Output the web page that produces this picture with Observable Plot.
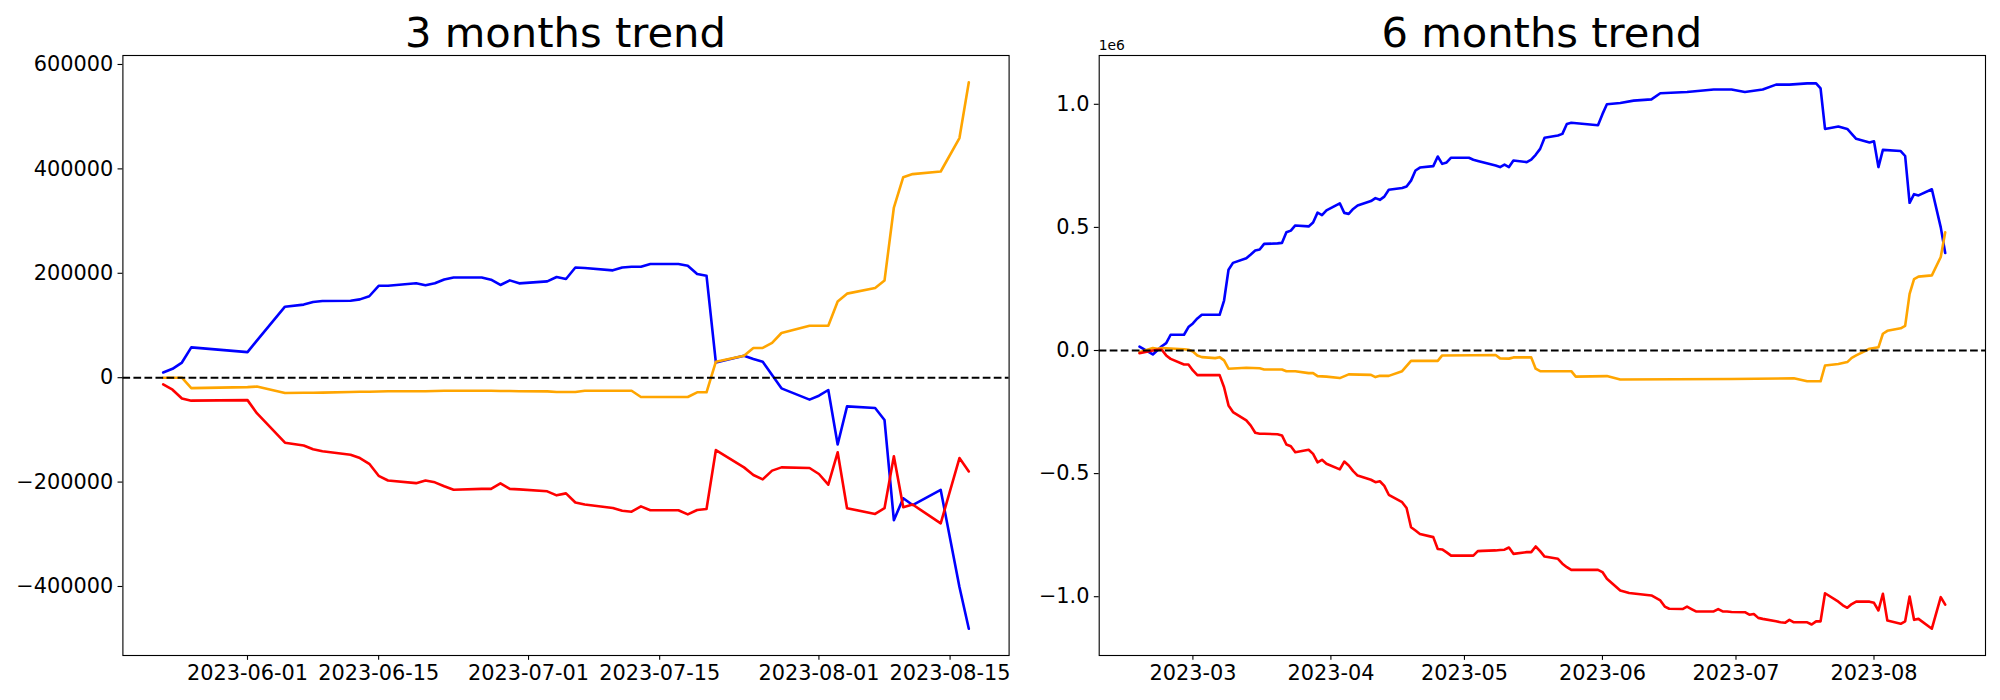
<!DOCTYPE html>
<html>
<head>
<meta charset="utf-8">
<script src="https://cdn.jsdelivr.net/npm/d3@7"></script>
<script src="https://cdn.jsdelivr.net/npm/@observablehq/plot@0.6"></script>
<style>
  html, body { margin: 0; padding: 0; background: #ffffff; }
  #fig { position: relative; width: 2000px; height: 700px; font-family: "DejaVu Sans", sans-serif; color: #000; }
  .title { position: absolute; top: 11.5px; font-size: 41.67px; line-height: 1; white-space: nowrap; transform: translateX(-50%); }
  .offset { position: absolute; top: 38.9px; font-size: 13.9px; line-height: 1; white-space: nowrap; }
  .panel { position: absolute; top: 50px; }
</style>
</head>
<body>
<div id="fig"></div>
<script>
// ---------------- DATA ----------------
// 3 months trend (values in thousands)
const dates3 = ["05-23","05-24","05-25","05-26","06-01","06-02","06-05","06-07","06-08","06-09","06-12","06-13","06-14","06-15","06-16","06-19","06-20","06-21","06-22","06-23","06-26","06-27","06-28","06-29","06-30","07-03","07-04","07-05","07-06","07-07","07-10","07-11","07-12","07-13","07-14","07-17","07-18","07-19","07-20","07-21","07-24","07-25","07-26","07-27","07-28","07-31","08-01","08-02","08-03","08-04","08-07","08-08","08-09","08-10","08-11","08-14","08-16","08-17"];
const blue3k = [10,17,29,58, 49,71,136,140,145,147,147.5,150,156,176,176,181,177,181,188,192,192,187.7,177.6,186.4,180.7, 184.5,192.9,189,211,210,205.6,211,212.6,212.6,217.8,217.8,214.5,198.6,195.4,29,42,36,30.6,5,-20.4,-42, -34.5,-23.6,-128,-55,-58,-81,-273,-231,-244,-215,-401,-481];
const orange3k = [0,0,0,-20, -18,-17,-29.4,-29,-29,-28.7,-27.5,-27,-27,-26.5,-26,-26,-26,-25.5,-25,-25,-25,-25,-25.5,-25.5,-26, -26.2,-27.5,-27.5,-27.5,-25,-25,-25,-25,-37,-37,-37,-37,-28,-28,30.6,42,57,57,66.5,85.6,99.6, 99.6,99.6,146,161,172,186,326,384,390,395,459,566];
const red3k = [-13,-23,-40,-44, -43,-68,-124.5,-130,-137,-141,-147.5,-154,-165,-188,-197,-202,-197,-200.5,-208,-214.6,-213,-213,-202.5,-213,-214, -217.7,-225.4,-221.6,-239,-243,-249.7,-254.8,-256.7,-246.5,-254,-254,-261.8,-253.5,-251.6,-138.6,-171.8,-186.4,-194.8,-178,-171.8,-173, -184.5,-205,-143,-250,-261,-250,-150.7,-248,-243,-279,-154,-179.5];
const xTicks3 = ["06-01","06-15","07-01","07-15","08-01","08-15"];
const yTicks3 = [-400000,-200000,0,200000,400000,600000];
const yDomain3 = [-532200, 617200];

// 6 months trend (values in millions, "1e6")
const blue6 = [["02-17",0.016],["02-20",-0.016],["02-22",0.017],["02-23",0.03],["02-24",0.064],["02-27",0.064],["02-28",0.095],["03-01",0.11],["03-02",0.13],["03-03",0.145],["03-07",0.145],["03-08",0.203],["03-09",0.328],["03-10",0.356],["03-13",0.375],["03-14",0.39],["03-15",0.406],["03-16",0.41],["03-17",0.433],["03-20",0.435],["03-21",0.437],["03-22",0.48],["03-23",0.487],["03-24",0.508],["03-27",0.504],["03-28",0.52],["03-29",0.56],["03-30",0.55],["03-31",0.569],["04-03",0.598],["04-04",0.559],["04-05",0.555],["04-06",0.575],["04-07",0.589],["04-10",0.607],["04-11",0.619],["04-12",0.612],["04-13",0.625],["04-14",0.653],["04-17",0.66],["04-18",0.666],["04-19",0.69],["04-20",0.731],["04-21",0.743],["04-24",0.749],["04-25",0.788],["04-26",0.758],["04-27",0.764],["04-28",0.783],["05-01",0.783],["05-02",0.783],["05-03",0.775],["05-04",0.77],["05-08",0.751],["05-09",0.745],["05-10",0.755],["05-11",0.745],["05-12",0.772],["05-15",0.765],["05-16",0.775],["05-17",0.795],["05-18",0.819],["05-19",0.864],["05-22",0.873],["05-23",0.88],["05-24",0.92],["05-25",0.925],["05-31",0.915],["06-01",0.96],["06-02",1.0],["06-05",1.005],["06-08",1.015],["06-12",1.02],["06-14",1.045],["06-20",1.05],["06-26",1.06],["06-30",1.06],["07-03",1.05],["07-05",1.055],["07-07",1.06],["07-10",1.08],["07-13",1.08],["07-17",1.085],["07-19",1.085],["07-20",1.065],["07-21",0.9],["07-24",0.91],["07-26",0.9],["07-28",0.86],["07-31",0.845],["08-01",0.85],["08-02",0.745],["08-03",0.815],["08-07",0.81],["08-08",0.79],["08-09",0.6],["08-10",0.635],["08-11",0.63],["08-14",0.655],["08-16",0.5],["08-17",0.396]];
const orange6 = [["02-17",-0.007],["02-20",0.01],["02-21",0.007],["02-22",0.01],["02-27",0.005],["02-28",0.003],["03-01",-0.004],["03-02",-0.02],["03-03",-0.027],["03-06",-0.031],["03-07",-0.027],["03-08",-0.04],["03-09",-0.074],["03-13",-0.07],["03-16",-0.072],["03-17",-0.077],["03-21",-0.077],["03-22",-0.084],["03-24",-0.084],["03-27",-0.092],["03-28",-0.092],["03-29",-0.104],["03-31",-0.106],["04-03",-0.112],["04-05",-0.097],["04-10",-0.099],["04-11",-0.108],["04-12",-0.103],["04-14",-0.103],["04-17",-0.084],["04-19",-0.042],["04-25",-0.042],["04-26",-0.02],["05-03",-0.019],["05-08",-0.018],["05-09",-0.032],["05-11",-0.033],["05-12",-0.028],["05-16",-0.028],["05-17",-0.074],["05-18",-0.084],["05-25",-0.084],["05-26",-0.106],["06-02",-0.104],["06-05",-0.118],["06-30",-0.116],["07-14",-0.113],["07-17",-0.125],["07-20",-0.125],["07-21",-0.061],["07-24",-0.055],["07-26",-0.047],["07-27",-0.03],["07-28",-0.02],["07-31",0.007],["08-02",0.013],["08-03",0.068],["08-04",0.08],["08-07",0.09],["08-08",0.1],["08-09",0.23],["08-10",0.29],["08-11",0.3],["08-14",0.305],["08-16",0.38],["08-17",0.48]];
const red6 = [["02-17",-0.011],["02-20",0.0],["02-21",0.003],["02-22",0.003],["02-23",-0.02],["02-24",-0.034],["02-27",-0.057],["02-28",-0.057],["03-01",-0.081],["03-02",-0.1],["03-03",-0.1],["03-06",-0.1],["03-07",-0.1],["03-08",-0.149],["03-09",-0.223],["03-10",-0.25],["03-13",-0.284],["03-14",-0.305],["03-15",-0.334],["03-16",-0.338],["03-17",-0.338],["03-20",-0.34],["03-21",-0.345],["03-22",-0.382],["03-23",-0.389],["03-24",-0.413],["03-27",-0.403],["03-28",-0.42],["03-29",-0.454],["03-30",-0.444],["03-31",-0.46],["04-03",-0.483],["04-04",-0.451],["04-05",-0.467],["04-06",-0.49],["04-07",-0.508],["04-10",-0.525],["04-11",-0.535],["04-12",-0.531],["04-13",-0.55],["04-14",-0.586],["04-17",-0.616],["04-18",-0.64],["04-19",-0.718],["04-20",-0.731],["04-21",-0.745],["04-24",-0.758],["04-25",-0.806],["04-26",-0.808],["04-27",-0.82],["04-28",-0.833],["05-01",-0.833],["05-02",-0.833],["05-03",-0.833],["05-04",-0.815],["05-05",-0.814],["05-08",-0.812],["05-09",-0.81],["05-10",-0.809],["05-11",-0.8],["05-12",-0.826],["05-15",-0.819],["05-16",-0.819],["05-17",-0.796],["05-18",-0.815],["05-19",-0.837],["05-22",-0.846],["05-23",-0.866],["05-24",-0.88],["05-25",-0.891],["05-31",-0.891],["06-01",-0.9],["06-02",-0.927],["06-05",-0.975],["06-07",-0.985],["06-12",-0.995],["06-14",-1.015],["06-15",-1.04],["06-16",-1.049],["06-19",-1.05],["06-20",-1.04],["06-21",-1.05],["06-22",-1.06],["06-23",-1.06],["06-26",-1.06],["06-27",-1.05],["06-28",-1.06],["06-29",-1.06],["06-30",-1.062],["07-03",-1.063],["07-04",-1.073],["07-05",-1.07],["07-06",-1.086],["07-07",-1.09],["07-10",-1.1],["07-11",-1.104],["07-12",-1.106],["07-13",-1.094],["07-14",-1.104],["07-17",-1.104],["07-18",-1.113],["07-19",-1.1],["07-20",-1.1],["07-21",-0.986],["07-24",-1.02],["07-25",-1.035],["07-26",-1.045],["07-27",-1.03],["07-28",-1.02],["07-31",-1.02],["08-01",-1.025],["08-02",-1.056],["08-03",-0.988],["08-04",-1.097],["08-07",-1.11],["08-08",-1.1],["08-09",-0.999],["08-10",-1.094],["08-11",-1.09],["08-14",-1.13],["08-16",-1.002],["08-17",-1.032]];
const xTicks6 = ["03-01","04-01","05-01","06-01","07-01","08-01"];
const yTicks6 = [-1.0,-0.5,0.0,0.5,1.0];
const yDomain6 = [-1.2388, 1.1982];

const titles = ["3 months trend", "6 months trend"];
const colors = {blue: "#0000ff", orange: "#ffa500", red: "#ff0000"};

// ---------------- HELPERS ----------------
const parse = s => d3.utcParse("%Y-%m-%d")("2023-" + s);
const minus = s => s.replace("-", "\u2212");

function padDomain(dates) {
  const [a, b] = d3.extent(dates);
  const p = (b - a) * 0.05;
  return [new Date(+a - p), new Date(+b + p)];
}

const FS = 20.83, TICK = 4.86, TW = 1.11, LW = 2.6, DLW = 2.08;

function makePanel({series, xDomain, yDomain, xTicks, xFormat, yTicks, yFormat, width, marginLeft, marginRight}) {
  const lines = series.map(s => Plot.line(s.data, {x: "date", y: "value", stroke: s.color, strokeWidth: LW, strokeLinejoin: "round"}));
  return Plot.plot({
    width, height: 650,
    marginTop: 5, marginBottom: 45, marginLeft, marginRight,
    style: {fontFamily: '"DejaVu Sans", sans-serif', fontSize: FS + "px", color: "black", background: "transparent", overflow: "visible"},
    x: {type: "utc", domain: xDomain},
    y: {domain: yDomain},
    marks: [
      ...lines,
      Plot.ruleY([0], {stroke: "black", strokeWidth: DLW, strokeDasharray: "7.7,3.33"}),
      Plot.frame({stroke: "black", strokeWidth: TW}),
      Plot.axisX({anchor: "bottom", ticks: xTicks, tickFormat: xFormat, tickSize: TICK, tickPadding: TICK, strokeWidth: TW, fontSize: FS, label: null}),
      Plot.axisY({anchor: "left", ticks: yTicks, tickFormat: yFormat, tickSize: TICK, tickPadding: TICK, strokeWidth: TW, fontSize: FS, label: null})
    ]
  });
}

// ---------------- BUILD ----------------
const fig = document.getElementById("fig");

// Left panel
const d3s = dates3.map(parse);
const toRows = arr => arr.map((v, i) => ({date: d3s[i], value: v * 1000}));
const left = makePanel({
  series: [
    {data: toRows(blue3k), color: colors.blue},
    {data: toRows(orange3k), color: colors.orange},
    {data: toRows(red3k), color: colors.red}
  ],
  xDomain: padDomain(d3s),
  yDomain: yDomain3,
  xTicks: xTicks3.map(parse),
  xFormat: d3.utcFormat("%Y-%m-%d"),
  yTicks: yTicks3,
  yFormat: d => minus(String(d)),
  width: 1040, marginLeft: 122.4, marginRight: 31.4
});
left.classList.add("panel");
left.style.left = "0px";
left.style.position = "absolute";
left.style.top = "50px";
fig.appendChild(left);

// Right panel
const rows6 = arr => arr.map(([d, v]) => ({date: parse(d), value: v}));
const all6 = [...blue6, ...orange6, ...red6].map(([d]) => parse(d));
const right = makePanel({
  series: [
    {data: rows6(blue6), color: colors.blue},
    {data: rows6(orange6), color: colors.orange},
    {data: rows6(red6), color: colors.red}
  ],
  xDomain: padDomain(all6),
  yDomain: yDomain6,
  xTicks: xTicks6.map(parse),
  xFormat: d3.utcFormat("%Y-%m"),
  yTicks: yTicks6,
  yFormat: d => minus(d.toFixed(1)),
  width: 960, marginLeft: 58.7, marginRight: 15
});
right.classList.add("panel");
right.style.left = "1040px";
right.style.position = "absolute";
right.style.top = "50px";
fig.appendChild(right);

// Titles and offset text
const centers = [(122.4 + 1008.6) / 2, (1098.7 + 1985) / 2];
titles.forEach((t, i) => {
  const el = document.createElement("div");
  el.className = "title";
  el.style.left = centers[i] + "px";
  el.textContent = t;
  fig.appendChild(el);
});
const off = document.createElement("div");
off.className = "offset";
off.style.left = "1098.7px";
off.textContent = "1e6";
fig.appendChild(off);
</script>
</body>
</html>
